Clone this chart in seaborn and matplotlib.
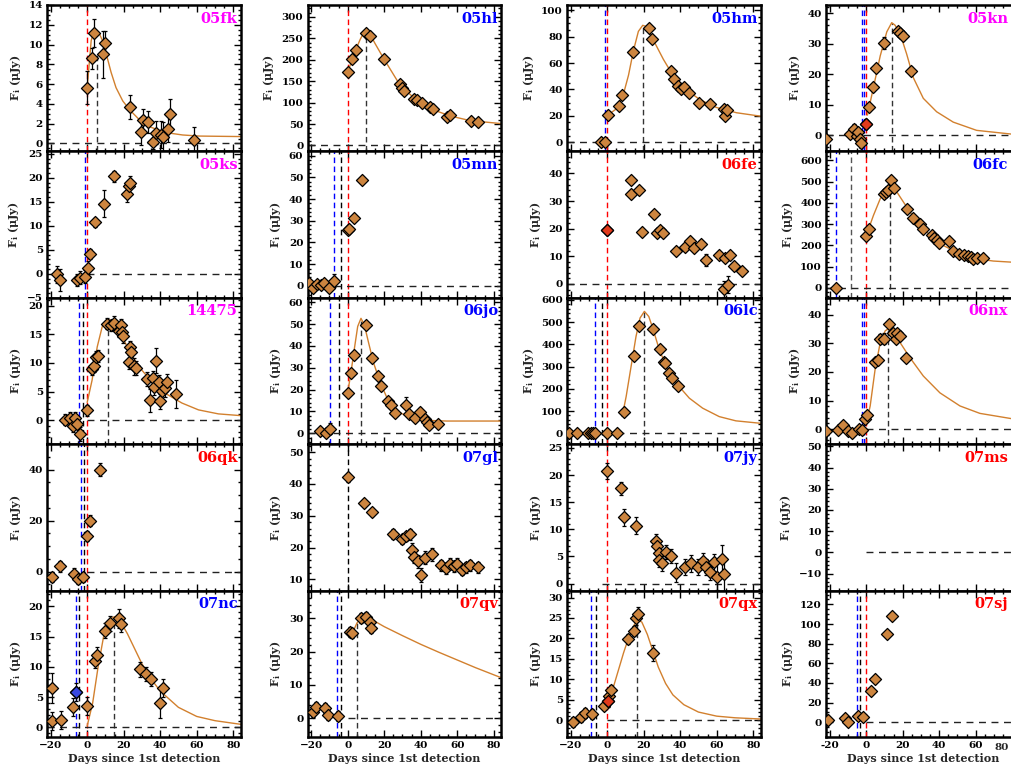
"""
Light-curve grid: 20 supernova panels, flux vs days since 1st detection.
"""
import matplotlib
matplotlib.use("Agg")
import matplotlib.pyplot as plt
from matplotlib.ticker import MultipleLocator, AutoMinorLocator
import seaborn as sns

# ── Data ────────────────────────────────────────────────────────────────────
sn05fk_day = [0, 2.5, 4.0, 8.7, 10.0, 23.3, 29.5, 30.8, 33.2, 36.2, 37.7, 40.3, 41.3, 44.3, 45.5, 58.3]
sn05fk_flux = [5.65, 8.6, 11.2, 9.0, 10.2, 3.7, 1.2, 2.4, 2.2, 0.2, 1.1, 0.9, 0.7, 1.5, 3.0, 0.4]
sn05fk_err = [1.7, 1.1, 1.4, 2.4, 1.2, 1.2, 1.4, 1.1, 1.1, 0.8, 1.2, 1.4, 1.5, 1.3, 1.5, 1.3]
sn05fk_fit_day = [0, 2.2, 3.6, 5.0, 6.7, 8.6, 10.4, 13.1, 15.8, 19.5, 23.3, 28.6, 34, 43.2, 52.3, 61.4, 84]
sn05fk_fit_flux = [5.65, 10.4, 11.3, 11.5, 11.1, 10.3, 9.1, 7.2, 5.65, 4.3, 3.4, 2.4, 1.7, 1.1, 0.86, 0.75, 0.7]

sn05hl_day = [0, 2.6, 4.4, 10.2, 12, 19.9, 28.4, 29.5, 30.6, 36.4, 37.9, 40.6, 45, 46.6, 54.3, 56.1, 67.4, 71.6]
sn05hl_flux = [171, 202, 222, 263, 256, 201, 143, 133, 127, 109, 105, 99, 89, 85, 66, 70, 57, 54]
sn05hl_fit_day = [0, 2.6, 5.1, 6.9, 8.7, 10, 12, 15, 20, 28.8, 37.9, 47, 56, 67, 84]
sn05hl_fit_flux = [171, 202, 230, 248, 262, 266, 262, 238, 201, 140, 105, 83, 69, 58, 51]

sn05hm_day = [-3.5, -1.1, 0.5, 6.6, 8.4, 14.2, 23.1, 24.6, 34.8, 36.4, 39, 40.6, 42.3, 45, 50.3, 56.3, 63.9, 64.8, 65.8]
sn05hm_flux = [0, 0, 20.7, 27.4, 35.4, 68.6, 86.2, 77.9, 54.3, 47.6, 42.8, 40.2, 42, 37.2, 29.8, 29.3, 25.3, 20.2, 24.2]
sn05hm_fit_day = [0.5, 5.3, 8.6, 11.7, 14.4, 17.1, 19.5, 21.7, 25.3, 30.8, 36.2, 41.7, 50.8, 59.9, 70.9, 84]
sn05hm_fit_flux = [20.7, 25.5, 34.8, 50.8, 69.4, 84, 88.6, 87.5, 77.4, 62.8, 50.3, 41.5, 32.2, 26.3, 22.3, 19.7]

sn05kn_day = [-22, -8.7, -6.9, -5.1, -4.2, -3.3, -2.9, 0, 1.5, 4, 5.5, 10, 17.3, 18.6, 20.4, 24.4]
sn05kn_flux = [-1.2, 0.4, 2.1, -0.4, 1.2, -1.2, -2.7, 3.7, 9.1, 15.7, 22.2, 30.3, 34.2, 33.5, 32.4, 21.1]
sn05kn_err = [1.0, 1.2, 1.5, 1.2, 1.2, 1.2, 1.5, 1.2, 1.2, 1.2, 1.2, 2.0, 1.2, 1.2, 1.2, 1.2]
sn05kn_fit_day = [0.7, 4, 7.7, 11.3, 14, 15.8, 18.6, 22.2, 25.9, 31.3, 38.6, 47.7, 60.5, 79.2, 88]
sn05kn_fit_flux = [6.6, 15.7, 26, 33.9, 36.9, 36.1, 33.3, 26.6, 18.8, 12.1, 7.7, 4.3, 1.6, 0.4, 0.3]

sn05ks_day = [-16.6, -15.1, -5.6, -4, -1.3, 0.4, 1.8, 4.4, 9.1, 14.9, 21.9, 22.8, 23.7]
sn05ks_flux = [-0.1, -1.3, -1.3, -0.8, -0.6, 1.3, 4.1, 10.7, 14.6, 20.3, 16.6, 18.3, 19.0]
sn05ks_err = [1.8, 2.3, 1.3, 1.3, 1.3, 1.3, 1.1, 1.0, 2.8, 1.1, 1.6, 1.2, 1.3]

sn05mn_day = [-21.3, -19, -16.9, -14.8, -12.8, -10, -7.7, 0, 0.7, 3.3, 7.7]
sn05mn_flux = [1.1, -0.8, 0.8, 0.5, 1.1, -0.9, 2.3, 25.7, 26.2, 31.1, 48.9]
sn05mn_err = [1.0, 1.0, 1.0, 1.0, 1.0, 1.0, 3.0, 1.0, 1.0, 1.0, 1.0]

sn06fe_day = [0, 12.8, 12.8, 17.7, 19.1, 25.9, 27.5, 29, 30.8, 37.5, 42.4, 45.5, 47.4, 51.5, 54.1,
              61.2, 64.1, 64.7, 66.3, 67.2, 69.6, 74]
sn06fe_flux = [19.6, 37.8, 32.4, 34, 18.9, 25.3, 18.4, 19.7, 18.5, 12.1, 13.3, 15.6, 12.9, 14.5, 8.7,
               10.6, -1.8, 9.5, -0.2, 10.6, 6.6, 4.7]
sn06fe_err = [1, 1, 1, 1, 1, 1, 1, 1, 1, 1, 1, 1, 1, 1, 2.2, 1, 3, 1.2, 3, 1, 1, 1]

sn06fc_day = [-16.4, 0, 1.8, 9.5, 10.9, 12.2, 13.7, 15.5, 22.2, 25.9, 29.5, 31, 35.9, 37.3, 38.6, 40,
              45.5, 47.7, 51, 53.5, 55.9, 57.4, 58.7, 60.5, 64.1]
sn06fc_flux = [-3, 242, 278, 443, 451, 462, 506, 468, 369, 330, 302, 278, 247, 236, 223, 210,
               218, 173, 160, 156, 152, 144, 137, 141, 141]
sn06fc_fit_day = [0, 4, 7.7, 11.3, 14, 16.8, 20.4, 25.9, 33.2, 42.3, 51.4, 60.5, 69.6, 79.2, 88]
sn06fc_fit_flux = [245, 341, 419, 459, 466, 451, 404, 333, 262, 199, 160, 137, 126, 121, 118]

sn14475_day = [-12.4, -9.5, -7.8, -6.9, -5.3, -4, 0, 2.9, 4, 4.9, 5.8, 10.9, 12.8, 14.9, 17.7, 18.6,
               19.1, 19.7, 22.8, 23.3, 24, 25.9, 26.8, 32.8, 34.6, 36.1, 36.8, 37.5, 39.2, 39.9,
               41, 42.8, 43.9, 48.6]
sn14475_flux = [0.1, 0.4, -1.0, 0.4, -0.6, -2.4, 1.7, 8.9, 9.5, 11.1, 11.2, 16.9, 16.6, 17.0, 15.6,
                16.7, 15.5, 14.7, 10.2, 12.8, 12.0, 9.4, 9.1, 7.2, 3.5, 7.3, 5.8, 10.4, 6.6, 3.3,
                5.1, 5.6, 6.6, 4.6]
sn14475_err = [1, 1, 1, 1, 1, 1.2, 1, 1, 1, 1, 1, 1, 1, 1.2, 1, 1, 1, 1.2, 1.2, 1, 1, 1.5, 1.2,
               1.2, 2, 1.3, 1.4, 2.2, 1.3, 1.3, 1.5, 1.5, 1.4, 2.5]
sn14475_fit_day = [0, 2.7, 5.5, 8.2, 10.9, 12.8, 17.3, 22.8, 28.2, 35.5, 42.8, 51.9, 61, 71.9, 84]
sn14475_fit_flux = [3.1, 7, 12.8, 16.3, 17.6, 17.5, 15.8, 12.3, 9.4, 6.7, 4.7, 3.0, 1.8, 1.1, 0.8]

sn06jo_day = [-14.9, -11.7, -9.8, 0, 1.8, 3.3, 9.8, 13.3, 16.4, 18, 22.2, 23.7, 26.2, 32, 33.7, 37,
              39.5, 42.1, 43.4, 44.6, 49.4]
sn06jo_flux = [1.1, 0, 2.1, 18.5, 27.7, 35.6, 49.4, 34.5, 26.4, 21.6, 14.7, 12.8, 9.3, 12.9, 8.7,
               6.8, 9.9, 6.7, 5.2, 3.8, 4.1]
sn06jo_err = [1, 1, 2.5, 1, 1, 1, 1, 1, 1, 1, 1, 1, 1, 3.5, 1.5, 1, 1.5, 1, 1, 1, 1]
sn06jo_fit_day = [0, 1.8, 3.6, 5.5, 7.3, 9.1, 11.5, 14.2, 17.9, 21.5, 25.1, 28.8, 34.2, 43.4, 54.3, 84]
sn06jo_fit_flux = [18.5, 27.7, 38.3, 48.9, 52.6, 49.7, 41.3, 32.2, 23.1, 16.3, 12, 9.4, 7.1, 5.9, 5.6, 5.6]

sn06lc_day = [-20.9, -16.4, -10.6, -8.7, -7.8, -6.6, 0, 5.5, 9.1, 14.9, 17.7, 25.3, 29, 31, 31.7,
              34.1, 35.5, 38.6]
sn06lc_flux = [0, 0, 0, 0, 0, 0, 0, 3, 94, 348, 484, 469, 378, 319, 315, 270, 248, 213]
sn06lc_fit_day = [8.2, 10.4, 13.1, 15.8, 18, 20.4, 22.8, 25, 28.6, 33.2, 38.6, 45, 52.3, 61.4, 70.5, 84]
sn06lc_fit_flux = [75, 165, 300, 435, 518, 548, 525, 472, 375, 285, 218, 158, 113, 75, 56, 45]

sn06nx_day = [-22, -15.7, -12.8, -10, -8, -4, -2.4, -0.4, 0.4, 5.1, 6.6, 7.7, 10, 12.4, 14.6, 16.4,
              16.9, 18.6, 21.7]
sn06nx_flux = [-0.7, -0.4, 1.4, -0.7, -1.5, -0.1, -0.4, 3.4, 5.1, 23.5, 24.2, 31.7, 31.7, 36.8,
               33.5, 31.7, 33.8, 32.6, 25]
sn06nx_err = [1, 1, 1.2, 1, 1, 1, 1, 1, 1, 1.2, 1.2, 1.5, 1.8, 1, 1.2, 1.5, 1, 1.2, 1]
sn06nx_fit_day = [0, 2.2, 4.9, 7.7, 10.4, 12.2, 14.9, 18.6, 24, 31.3, 40.4, 51.4, 62.3, 79.2, 88]
sn06nx_fit_flux = [1.6, 8.1, 20.9, 30.3, 34.4, 35.2, 33.8, 30.3, 25, 18.6, 12.7, 8.1, 5.5, 3.7, 3.0]

sn06qk_day = [-19.1, -14.8, -7.1, -4.9, -2.2, 0, 1.6, 7.1]
sn06qk_flux = [-2, 2, -0.8, -3, -2, 14, 20, 40]
sn06qk_err = [2, 2, 2, 2, 2, 2, 2, 2.5]

sn07gl_day = [0, 8.7, 13.1, 24.6, 29.5, 31.7, 33.9, 35.5, 36.6, 38.3, 40.4, 42.1, 46.4, 51.4, 54.1,
              56.3, 58.5, 60.1, 62.8, 65, 67.2, 71.6]
sn07gl_flux = [42.1, 33.9, 31.1, 24.2, 22.6, 23.5, 24.2, 19.4, 17.2, 15.7, 11.3, 16.9, 17.9, 14.4,
               13.5, 15, 14.1, 15, 13.1, 13.8, 14.4, 13.8]
sn07gl_err = [1.5, 1.2, 1.2, 1.5, 1.5, 1.5, 1.8, 2, 2, 2, 2.2, 2, 2, 1.8, 1.8, 1.8, 1.8, 1.8, 1.8,
              1.8, 1.8, 1.8]

sn07jy_day = [0, 7.7, 9.3, 15.8, 26.8, 27.3, 28.4, 28.4, 30, 32.2, 35, 37.7, 42.6, 45.9, 49.7, 52.5,
              54.1, 56.3, 58.5, 60.1, 62.8, 63.9]
sn07jy_flux = [20.7, 17.6, 12.2, 10.7, 7.8, 6.9, 5.6, 4.4, 3.7, 5.9, 5, 2, 3.1, 3.7, 3, 4.1, 3.1,
               2.2, 3.9, 1.3, 4.6, 1.7]
sn07jy_err = [1.5, 1.2, 1.5, 1.5, 1.3, 1.3, 1.3, 1.3, 1.3, 1.3, 1.3, 1.8, 1.5, 1.5, 1.5, 1.5, 1.5,
              1.5, 1.5, 2.5, 2.5, 3]

sn07nc_day = [-19.5, -19, -14.5, -8, -6, 0, 4.4, 5.5, 9.8, 12.5, 17.5, 18.6, 29, 32.2, 35, 39.9, 41.5]
sn07nc_flux = [6.5, 1.0, 1.2, 3.3, 5.8, 3.5, 11, 12, 16, 17.2, 18, 17, 9.6, 8.8, 8.0, 4.0, 6.5]
sn07nc_err = [2.5, 1.5, 1.5, 1.5, 1.5, 1.5, 1.2, 1.2, 1.2, 1.2, 1.5, 1.2, 1.2, 1.2, 1.2, 2.5, 1.5]
sn07nc_fit_day = [0, 3, 6, 9, 12, 15, 18, 22, 26, 30, 35, 40, 50, 60, 70, 84]
sn07nc_fit_flux = [0.2, 4, 10, 15, 17.8, 18.3, 17.6, 15.5, 13, 10.5, 8, 6, 3.3, 1.8, 1.1, 0.5]

sn07qv_day = [-19.1, -17.5, -12.6, -10.9, -5.5, 1.1, 2.5, 7.5, 10, 12, 13]
sn07qv_flux = [1.8, 3.3, 3, 0.9, 0.6, 26, 25.5, 30, 30.3, 29, 27]
sn07qv_err = [1.5, 1.5, 1.5, 1.5, 1.5, 1.5, 1.5, 1.5, 1.5, 1.5, 1.5]
sn07qv_fit_day = [3, 5, 7, 9, 12, 20, 30, 40, 50, 60, 70, 84]
sn07qv_fit_flux = [26, 28.5, 30, 30.5, 30, 27.5, 24.8, 22.2, 19.8, 17.5, 15.2, 12.2]

sn07qx_day = [-18.6, -14.2, -12, -8.2, -1.6, 0.5, 1.1, 2.2, 11.5, 14.8, 15.8, 16.9, 25.1]
sn07qx_flux = [-0.5, 0.7, 1.7, 1.5, 3.6, 4.8, 6, 7.3, 19.9, 21.8, 24.9, 26.1, 16.5]
sn07qx_err = [1.2, 1.2, 1.2, 1.2, 1.2, 1.5, 1.5, 1.2, 1.2, 1.2, 1.5, 1.5, 2]
sn07qx_fit_day = [0, 3, 6, 9, 12, 15, 17, 19, 22, 25, 28, 32, 36, 42, 50, 60, 70, 84]
sn07qx_fit_flux = [4, 7.5, 12, 16.5, 20.5, 23.5, 24.5, 24, 21, 17, 13, 9, 6.2, 3.8, 2, 1, 0.6, 0.3]

sn07sj_day = [-20.8, -11.5, -9.8, -4.4, -1.6, 2.7, 4.9, 11.5, 14.2]
sn07sj_flux = [2, 4, 0, 6, 5, 32, 44, 90, 108]

# ── Style ────────────────────────────────────────────────────────────────────
MAGENTA, BLUE, RED = "#ff00ff", "#0000ff", "#ff0000"
MARKER_FILL = "#cd853f"
FIT_COLOR = "#d2802e"
RED_FILL, BLUE_FILL = "#e23a1c", "#3848e0"
XLIM = (-22, 84)

# name, label colour, data, fit, ylim, y-step, vertical lines (day, colour),
# peak marker (day, height), start of zero line, specially filled points
PANELS = [
    dict(name="05fk", color=MAGENTA, day=sn05fk_day, flux=sn05fk_flux, err=sn05fk_err,
         fit=(sn05fk_fit_day, sn05fk_fit_flux), ylim=(-0.8, 14), step=2,
         vlines=[(0, RED)], peak=(5.5, 9.2), zero_from=-22),
    dict(name="05hl", color=BLUE, day=sn05hl_day, flux=sn05hl_flux, err=None,
         fit=(sn05hl_fit_day, sn05hl_fit_flux), ylim=(-14, 328), step=50,
         vlines=[(0, RED)], peak=(10, 266), zero_from=-22),
    dict(name="05hm", color=BLUE, day=sn05hm_day, flux=sn05hm_flux, err=None,
         fit=(sn05hm_fit_day, sn05hm_fit_flux), ylim=(-7, 104), step=20,
         vlines=[(-1.1, BLUE), (0, RED)], peak=(19.5, 88.5), zero_from=-22),
    dict(name="05kn", color=MAGENTA, day=sn05kn_day, flux=sn05kn_flux, err=sn05kn_err,
         fit=(sn05kn_fit_day, sn05kn_fit_flux), ylim=(-5.3, 42.7), step=10,
         vlines=[(-2.4, BLUE), (-1.2, BLUE), (0, RED)], peak=(14, 36.9), zero_from=-22,
         fill=[(7, RED_FILL)]),
    dict(name="05ks", color=MAGENTA, day=sn05ks_day, flux=sn05ks_flux, err=sn05ks_err,
         fit=None, ylim=(-5, 25.5), step=5,
         vlines=[(-1, BLUE), (0, RED)], peak=None, zero_from=0),
    dict(name="05mn", color=BLUE, day=sn05mn_day, flux=sn05mn_flux, err=sn05mn_err,
         fit=None, ylim=(-5.5, 62), step=10,
         vlines=[(-7.7, BLUE), (-3.6, "black"), (0, RED)], peak=None, zero_from=-7.7),
    dict(name="06fe", color=RED, day=sn06fe_day, flux=sn06fe_flux, err=sn06fe_err,
         fit=None, ylim=(-5, 48), step=10,
         vlines=[(0, RED)], peak=None, zero_from=-22, fill=[(0, RED_FILL)]),
    dict(name="06fc", color=BLUE, day=sn06fc_day, flux=sn06fc_flux, err=None,
         fit=(sn06fc_fit_day, sn06fc_fit_flux), ylim=(-47, 642), step=100,
         vlines=[(-16.4, BLUE), (-8.4, "#555555"), (0, RED)], peak=(13.1, 466), zero_from=-22),
    dict(name="14475", color=MAGENTA, day=sn14475_day, flux=sn14475_flux, err=sn14475_err,
         fit=(sn14475_fit_day, sn14475_fit_flux), ylim=(-4.2, 21.4), step=5,
         vlines=[(-4.2, BLUE), (-2.3, "black"), (0, RED)], peak=(11.3, 17.6), zero_from=0),
    dict(name="06jo", color=BLUE, day=sn06jo_day, flux=sn06jo_flux, err=sn06jo_err,
         fit=(sn06jo_fit_day, sn06jo_fit_flux), ylim=(-5, 62), step=10,
         vlines=[(-9.8, BLUE), (-4.9, "black"), (0, RED)], peak=(7.5, 52.6), zero_from=-22),
    dict(name="06lc", color=BLUE, day=sn06lc_day, flux=sn06lc_flux, err=None,
         fit=(sn06lc_fit_day, sn06lc_fit_flux), ylim=(-49, 609), step=100,
         vlines=[(-6.7, BLUE), (-2.9, "black"), (0, RED)], peak=(20.4, 548), zero_from=-22),
    dict(name="06nx", color=MAGENTA, day=sn06nx_day, flux=sn06nx_flux, err=sn06nx_err,
         fit=(sn06nx_fit_day, sn06nx_fit_flux), ylim=(-5.3, 46), step=10,
         vlines=[(-2.4, BLUE), (-1.2, BLUE), (0, RED)], peak=(11.7, 35.2), zero_from=0),
    dict(name="06qk", color=RED, day=sn06qk_day, flux=sn06qk_flux, err=sn06qk_err,
         fit=None, ylim=(-7.5, 50), step=20,
         vlines=[(-3.3, BLUE), (-1.6, "black"), (0, RED)], peak=None, zero_from=0),
    dict(name="07gl", color=BLUE, day=sn07gl_day, flux=sn07gl_flux, err=sn07gl_err,
         fit=None, ylim=(6.5, 52.5), step=10,
         vlines=[(0, "black")], peak=None, zero_from=None),
    dict(name="07jy", color=BLUE, day=sn07jy_day, flux=sn07jy_flux, err=sn07jy_err,
         fit=None, ylim=(-1.3, 25.7), step=5,
         vlines=[(0, RED)], peak=None, zero_from=-3),
    dict(name="07ms", color=RED, day=[], flux=[], err=None,
         fit=None, ylim=(-18, 51), step=10,
         vlines=[], peak=None, zero_from=0),
    dict(name="07nc", color=BLUE, day=sn07nc_day, flux=sn07nc_flux, err=sn07nc_err,
         fit=(sn07nc_fit_day, sn07nc_fit_flux), ylim=(-1.6, 22.6), step=5,
         vlines=[(-6, BLUE), (-4.4, "black"), (0, RED)], peak=(14.5, 18.3), zero_from=-22,
         fill=[(4, BLUE_FILL)]),
    dict(name="07qv", color=RED, day=sn07qv_day, flux=sn07qv_flux, err=sn07qv_err,
         fit=(sn07qv_fit_day, sn07qv_fit_flux), ylim=(-5.6, 38.3), step=10,
         vlines=[(-6, BLUE), (-3.6, "black")], peak=(5, 28.5), zero_from=0),
    dict(name="07qx", color=RED, day=sn07qx_day, flux=sn07qx_flux, err=sn07qx_err,
         fit=(sn07qx_fit_day, sn07qx_fit_flux), ylim=(-4.1, 31.7), step=5,
         vlines=[(-8.7, BLUE), (-6, "black"), (0, RED)], peak=(16.4, 24.5), zero_from=0,
         fill=[(5, RED_FILL)]),
    dict(name="07sj", color=RED, day=sn07sj_day, flux=sn07sj_flux, err=None,
         fit=None, ylim=(-15, 134), step=20,
         vlines=[(-5, BLUE), (-3.3, "black"), (0, RED)], peak=None, zero_from=0),
]

# ── Layout (pixels of a 1011x769 canvas) ─────────────────────────────────────
W, H = 1011, 769
COL_LEFT = [47, 307.5, 567, 826]
AX_W, AX_H, TOP = 193.5, 146.4, 5
# the right-hand column runs past the canvas edge; keep its names inside
LABEL_X = [0.985, 0.985, 0.985, 0.94]

sns.set_theme(style="ticks")
plt.rcParams["font.family"] = ["DejaVu Serif"]
plt.rcParams["font.weight"] = "bold"
plt.rcParams["mathtext.fontset"] = "dejavuserif"

fig = plt.figure(figsize=(W / 100, H / 100), dpi=100)
fig.patch.set_facecolor("white")

for i, p in enumerate(PANELS):
    r, c = divmod(i, 4)
    left = COL_LEFT[c] / W
    bottom = 1 - (TOP + (r + 1) * AX_H) / H
    ax = fig.add_axes([left, bottom, AX_W / W, AX_H / H])
    ax.set_facecolor("white")
    y0, y1 = p["ylim"]

    # vertical reference lines
    for d, col in p["vlines"]:
        ax.axvline(d, color=col, lw=1.0, ls=(0, (4, 2.5)), zorder=1)
    if p["peak"] is not None:
        pd_, ph = p["peak"]
        ax.plot([pd_, pd_], [y0, ph], color="#333333", lw=1.0, ls=(0, (4, 2.5)), zorder=1)
    if p["zero_from"] is not None:
        ax.plot([p["zero_from"], 90], [0, 0], color="#222222", lw=1.0, ls=(0, (5, 4)), zorder=1)

    # model fit
    if p["fit"] is not None:
        sns.lineplot(x=p["fit"][0], y=p["fit"][1], ax=ax, color=FIT_COLOR, lw=1.0,
                     sort=False, estimator=None, zorder=2)

    # photometry
    if p["day"]:
        if p["err"] is not None:
            ax.errorbar(p["day"], p["flux"], yerr=p["err"], fmt="none", ecolor="black",
                        elinewidth=0.9, capsize=1.5, capthick=0.9, zorder=3)
        sns.scatterplot(x=p["day"], y=p["flux"], ax=ax, marker="D", s=38, color=MARKER_FILL,
                        edgecolor="black", linewidth=0.9, zorder=4)
        for idx, fc in p.get("fill", []):
            ax.scatter([p["day"][idx]], [p["flux"][idx]], marker="D", s=38, color=fc,
                       edgecolor="black", linewidth=0.9, zorder=5)

    ax.set_xlim(*XLIM)
    ax.set_ylim(y0, y1)
    ax.xaxis.set_major_locator(MultipleLocator(20))
    ax.xaxis.set_minor_locator(MultipleLocator(5))
    ax.yaxis.set_major_locator(MultipleLocator(p["step"]))
    ax.yaxis.set_minor_locator(AutoMinorLocator())
    ax.tick_params(which="both", direction="in", top=True, right=True, colors="black",
                   width=1.0, labelsize=7.5, pad=3)
    ax.tick_params(which="major", length=5)
    ax.tick_params(which="minor", length=2.5)
    for spine in ax.spines.values():
        spine.set_linewidth(1.8)
        spine.set_color("black")
        spine.set_visible(True)
    for lbl in ax.get_xticklabels() + ax.get_yticklabels():
        lbl.set_fontweight("bold")

    ax.set_ylabel("F$_{\\mathbf{i}}$ (μJy)", fontsize=8, fontweight="bold", labelpad=4)
    if r == 4:
        ax.set_xlabel("Days since 1st detection", fontsize=8, fontweight="bold", labelpad=2)
        if c == 3:
            # last tick label sits on the canvas edge: pull it just inside
            ax.xaxis.set_major_formatter(
                lambda v, pos: "" if v > 70 else f"{v:.0f}")
            ax.annotate("80", xy=(80, 0), xycoords=("data", "axes fraction"),
                        xytext=(-2.5, -4), textcoords="offset points", ha="right",
                        va="top", fontsize=7.5, fontweight="bold")
    else:
        ax.set_xlabel("")
        ax.tick_params(labelbottom=False)

    ax.text(LABEL_X[c], 0.955, p["name"], transform=ax.transAxes, ha="right", va="top",
            fontsize=10.5, fontweight="bold", color=p["color"], zorder=6)

fig.savefig("out.png", dpi=100, facecolor="white")
